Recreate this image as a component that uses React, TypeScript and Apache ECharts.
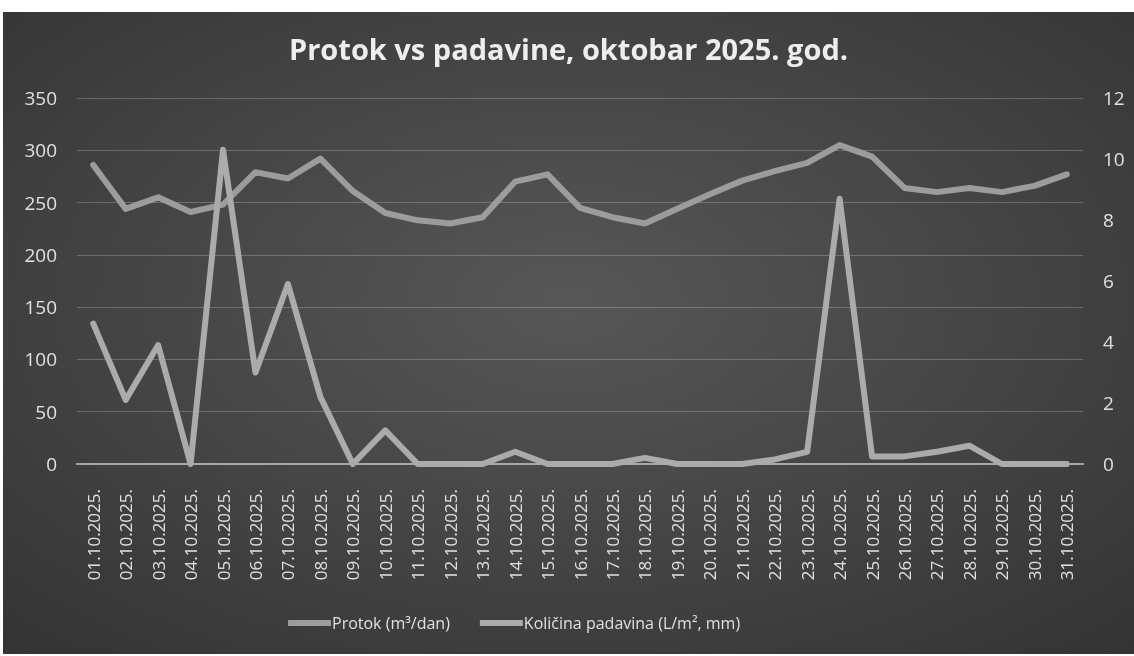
import React, { useEffect, useRef } from "react";
import * as echarts from "echarts";

const titleText = "Protok vs padavine, oktobar 2025. god.";
const seriesNames = ["Protok (m³/dan)", "Količina padavina (L/m², mm)"];

const categories = [
  "01.10.2025.", "02.10.2025.", "03.10.2025.", "04.10.2025.", "05.10.2025.",
  "06.10.2025.", "07.10.2025.", "08.10.2025.", "09.10.2025.", "10.10.2025.",
  "11.10.2025.", "12.10.2025.", "13.10.2025.", "14.10.2025.", "15.10.2025.",
  "16.10.2025.", "17.10.2025.", "18.10.2025.", "19.10.2025.", "20.10.2025.",
  "21.10.2025.", "22.10.2025.", "23.10.2025.", "24.10.2025.", "25.10.2025.",
  "26.10.2025.", "27.10.2025.", "28.10.2025.", "29.10.2025.", "30.10.2025.",
  "31.10.2025.",
];

// Protok (m³/dan) – left axis
const protok = [
  286, 244, 255, 241, 248, 279, 273, 292, 261, 240,
  233, 230, 236, 270, 277, 245, 236, 230, 244, 258,
  271, 280, 288, 305, 294, 264, 260, 264, 260, 266,
  277,
];

// Količina padavina (L/m², mm) – right axis
const padavine = [
  4.6, 2.1, 3.9, 0, 10.3, 3.0, 5.9, 2.2, 0, 1.1,
  0, 0, 0, 0.4, 0, 0, 0, 0.2, 0, 0,
  0, 0.15, 0.4, 8.7, 0.25, 0.25, 0.4, 0.6, 0, 0,
  0,
];

const leftAxis = { min: 0, max: 350, interval: 50 };
const rightAxis = { min: 0, max: 12, interval: 2 };

const FONT = "'Open Sans', 'Noto Sans', sans-serif";
const TEXT = "#e0e0e0";

export default function App() {
  const ref = useRef<HTMLDivElement>(null);

  useEffect(() => {
    if (!ref.current) return;
    const chart = echarts.init(ref.current, undefined, { renderer: "svg" });
    chart.setOption({
      animation: false,
      backgroundColor: {
        type: "radial",
        x: 0.5,
        y: 0.45,
        r: 0.75,
        colorStops: [
          { offset: 0, color: "#575757" },
          { offset: 1, color: "#333333" },
        ],
      },
      title: {
        text: titleText,
        left: "center",
        top: 17,
        textStyle: {
          color: "#eeeeee",
          fontFamily: FONT,
          fontWeight: "bold",
          fontSize: 29,
        },
      },
      legend: {
        left: 280,
        top: 598,
        itemWidth: 43,
        itemHeight: 6,
        itemGap: 30,
        icon: "rect",
        textStyle: { color: TEXT, fontFamily: FONT, fontSize: 16, padding: [0, 0, 0, -4] },
        data: seriesNames,
      },
      grid: { left: 74, right: 51, top: 86, bottom: 190 },
      xAxis: {
        type: "category",
        data: categories,
        boundaryGap: true,
        axisLine: { show: true, lineStyle: { color: "#a8a8a8", width: 2 } },
        axisTick: { show: false },
        axisLabel: {
          rotate: 90,
          interval: 0,
          margin: 25,
          color: TEXT,
          fontFamily: FONT,
          fontSize: 17,
        },
      },
      yAxis: [
        {
          type: "value",
          ...leftAxis,
          axisLine: { show: false },
          axisTick: { show: false },
          axisLabel: { color: TEXT, fontFamily: FONT, fontSize: 19, margin: 20 },
          splitLine: { lineStyle: { color: "rgba(255,255,255,0.22)", width: 1 } },
        },
        {
          type: "value",
          ...rightAxis,
          position: "right",
          axisLine: { show: false },
          axisTick: { show: false },
          axisLabel: { color: TEXT, fontFamily: FONT, fontSize: 19, margin: 20 },
          splitLine: { show: false },
        },
      ],
      series: [
        {
          name: seriesNames[0],
          type: "line",
          yAxisIndex: 0,
          data: protok,
          symbol: "none",
          itemStyle: { color: "#9c9c9c" },
          lineStyle: { color: "#9c9c9c", width: 6, cap: "round", join: "round" },
        },
        {
          name: seriesNames[1],
          type: "line",
          yAxisIndex: 1,
          data: padavine,
          symbol: "none",
          itemStyle: { color: "#ababab" },
          lineStyle: { color: "#ababab", width: 6, cap: "round", join: "round" },
        },
      ],
    });
    return () => chart.dispose();
  }, []);

  return (
    <div
      ref={ref}
      style={{ position: "fixed", left: 3, top: 12, width: 1131, height: 642 }}
    />
  );
}
